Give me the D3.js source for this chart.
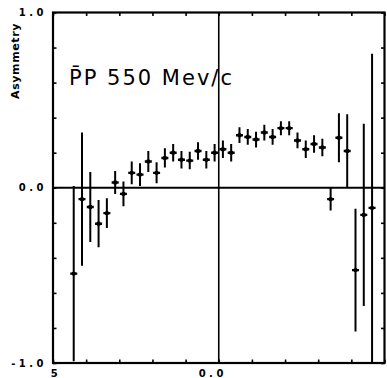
<!DOCTYPE html>
<html>
<head>
<meta charset="utf-8">
<script src="https://cdn.jsdelivr.net/npm/d3@7"></script>
<style>
  html, body { margin: 0; padding: 0; background: #fff; }
  svg { display: block; }
  text { font-family: "DejaVu Sans", sans-serif; fill: #000; }
</style>
</head>
<body>
<svg id="chart" width="387" height="378"></svg>
<script>
// Bin centres in x (cos theta), one bin every 0.025
const xCentres = [
  -0.4375, -0.4125, -0.3875, -0.3625, -0.3375, -0.3125, -0.2875, -0.2625,
  -0.2375, -0.2125, -0.1875, -0.1625, -0.1375, -0.1125, -0.0875, -0.0625,
  -0.0375, -0.0125, 0.0125, 0.0375, 0.0625, 0.0875, 0.1125, 0.1375,
  0.1625, 0.1875, 0.2125, 0.2375, 0.2625, 0.2875, 0.3125, 0.3375,
  0.3625, 0.3875, 0.4125, 0.4375, 0.4625
];
// Measured asymmetry in each bin
const asymmetry = [
  -0.49, -0.065, -0.11, -0.205, -0.145, 0.03, -0.035, 0.085,
  0.075, 0.15, 0.085, 0.17, 0.20, 0.16, 0.155, 0.21,
  0.16, 0.20, 0.22, 0.20, 0.30, 0.29, 0.275, 0.315,
  0.29, 0.34, 0.34, 0.27, 0.22, 0.25, 0.23, -0.065,
  0.285, 0.21, -0.47, -0.155, -0.115
];
// Statistical error of each bin
const errors = [
  0.50, 0.38, 0.20, 0.135, 0.085, 0.065, 0.07, 0.065,
  0.065, 0.06, 0.06, 0.055, 0.05, 0.05, 0.05, 0.05,
  0.05, 0.05, 0.05, 0.05, 0.045, 0.045, 0.045, 0.045,
  0.045, 0.04, 0.04, 0.045, 0.05, 0.05, 0.05, 0.065,
  0.14, 0.21, 0.35, 0.52, 0.88
];

const yTickValues = [1.0, 0.0, -1.0];
const yTickLabels = ["1.0", "0.0", "-1.0"];
const xTickValues = [-0.5, 0.0];
const xTickLabels = ["5", "0.0"];
const title = "P\u0304P 550 Mev/c";
const yTitle = "Asymmetry";

const svg = d3.select("#chart");
const plotLeft = 53, plotRight = 384.5, plotTop = 12.5, plotBottom = 363;

const x = d3.scaleLinear().domain([-0.5, 0.5]).range([plotLeft, plotRight]);
const y = d3.scaleLinear().domain([-1, 1]).range([plotBottom, plotTop]);

const xMinor = d3.range(-5, 6).map(d => d / 10);
const yMinor = d3.range(-5, 6).map(d => d / 5);

// inward ticks on all four sides
function styleAxis(g) {
  g.select(".domain").remove();
  g.selectAll(".tick line").attr("stroke", "#000").attr("stroke-width", 1.6);
  g.selectAll(".tick text").remove();
}
svg.append("g").attr("transform", `translate(0,${plotBottom})`)
  .call(d3.axisBottom(x).tickValues(xMinor).tickSize(-3.5).tickFormat("")).call(styleAxis);
svg.append("g").attr("transform", `translate(0,${plotTop})`)
  .call(d3.axisTop(x).tickValues(xMinor).tickSize(-3.5).tickFormat("")).call(styleAxis);
svg.append("g").attr("transform", `translate(${plotLeft},0)`)
  .call(d3.axisLeft(y).tickValues(yMinor).tickSize(-3.5).tickFormat("")).call(styleAxis);
svg.append("g").attr("transform", `translate(${plotRight},0)`)
  .call(d3.axisRight(y).tickValues(yMinor).tickSize(-3.5).tickFormat("")).call(styleAxis);

// zero lines
svg.append("line")
  .attr("x1", plotLeft).attr("x2", plotRight).attr("y1", y(0)).attr("y2", y(0))
  .attr("stroke", "#000").attr("stroke-width", 2.2);
svg.append("line")
  .attr("x1", x(0)).attr("x2", x(0)).attr("y1", plotTop).attr("y2", plotBottom)
  .attr("stroke", "#000").attr("stroke-width", 1.6);

// frame
svg.append("rect")
  .attr("x", plotLeft).attr("y", plotTop)
  .attr("width", plotRight - plotLeft).attr("height", plotBottom - plotTop)
  .attr("fill", "none").attr("stroke", "#000").attr("stroke-width", 2.2);

svg.append("clipPath").attr("id", "plotClip")
  .append("rect").attr("x", plotLeft).attr("y", plotTop)
  .attr("width", plotRight - plotLeft).attr("height", plotBottom - plotTop);

const pts = xCentres.map((c, i) => ({ c, v: asymmetry[i], e: errors[i] }));
const marks = svg.append("g").attr("clip-path", "url(#plotClip)");

marks.selectAll("line.err").data(pts).join("line")
  .attr("class", "err")
  .attr("x1", d => x(d.c)).attr("x2", d => x(d.c))
  .attr("y1", d => y(d.v + d.e)).attr("y2", d => y(d.v - d.e))
  .attr("stroke", "#000").attr("stroke-width", 2);

marks.selectAll("line.cap").data(pts).join("line")
  .attr("class", "cap")
  .attr("x1", d => x(d.c) - 3.5).attr("x2", d => x(d.c) + 3.5)
  .attr("y1", d => y(d.v)).attr("y2", d => y(d.v))
  .attr("stroke", "#000").attr("stroke-width", 2.4);

marks.selectAll("circle").data(pts).join("circle")
  .attr("cx", d => x(d.c)).attr("cy", d => y(d.v)).attr("r", 2.2)
  .attr("fill", "#000");

// tick labels
svg.selectAll("text.ylab").data(yTickValues).join("text")
  .attr("class", "ylab")
  .attr("x", 47).attr("y", d => y(d) + 3.5)
  .attr("text-anchor", "end")
  .attr("font-size", 10).attr("font-weight", "bold")
  .attr("letter-spacing", 3.5)
  .text((d, i) => yTickLabels[i]);

svg.selectAll("text.xlab").data(xTickValues).join("text")
  .attr("class", "xlab")
  .attr("x", (d, i) => i === 0 ? x(d) + 3 : x(d) - 6)
  .attr("y", 377)
  .attr("text-anchor", "middle")
  .attr("font-size", 10).attr("font-weight", "bold")
  .attr("letter-spacing", 3.5)
  .text((d, i) => xTickLabels[i]);

// axis title
svg.append("text")
  .attr("transform", "translate(19,61) rotate(-90)")
  .attr("text-anchor", "middle")
  .attr("font-size", 11).attr("font-weight", "bold")
  .attr("letter-spacing", 0.6)
  .text(yTitle);

// reaction label
svg.append("text")
  .attr("x", 69).attr("y", 85)
  .attr("font-size", 21)
  .attr("textLength", 163).attr("lengthAdjust", "spacing")
  .text(title);
</script>
</body>
</html>
